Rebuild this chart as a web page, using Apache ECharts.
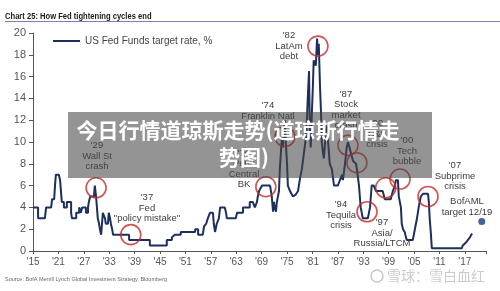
<!DOCTYPE html>
<html>
<head>
<meta charset="utf-8">
<script src="https://cdn.jsdelivr.net/npm/echarts@6/dist/echarts.min.js"></script>
<style>
html, body { margin: 0; padding: 0; background: #fff; }
#chart { width: 500px; height: 291px; }
</style>
</head>
<body>
<div id="chart"></div>
<script>
// 横轴用“距1915年的年数”, 这样 min=0 是 interval=6 的倍数
var baseYear = 1915;

var xTickLabels = ["'15", "'21", "'27", "'33", "'39", "'45", "'51", "'57", "'63",
    "'69", "'75", "'81", "'87", "'93", "'99", "'05", "'11", "'17"];

// 联储利率 (从图上读出来的, 阶梯处用重复年份)
var rateYears = [
    1915.0, 1916.2, 1916.2, 1917.8, 1918.1, 1919.3, 1919.5, 1920.0, 1920.2, 1920.4,
    1921.1, 1921.4, 1921.6, 1921.8, 1922.3, 1922.3, 1923.0, 1923.0, 1924.0, 1924.0,
    1924.2, 1925.2, 1925.2, 1925.9, 1925.9, 1926.3, 1926.3, 1926.6, 1927.5, 1927.5,
    1928.0, 1928.0, 1928.2, 1928.5, 1929.4, 1929.6, 1929.9, 1929.9, 1930.1, 1930.3,
    1930.6, 1930.8, 1931.1, 1931.3, 1931.5, 1931.8, 1932.0, 1932.2, 1932.7, 1932.9,
    1933.2, 1933.4, 1933.7, 1933.9, 1937.7, 1937.7, 1942.6, 1942.6, 1946.6, 1946.6,
    1947.8, 1947.8, 1948.5, 1949.9, 1949.9, 1953.3, 1953.3, 1954.0, 1954.0, 1955.1,
    1955.4, 1955.9, 1956.3, 1956.8, 1957.5, 1957.7, 1958.0, 1958.4, 1958.9, 1959.2,
    1960.3, 1960.6, 1960.8, 1962.9, 1963.2, 1964.6, 1964.6, 1966.2, 1966.2, 1966.9,
    1967.4, 1967.9, 1968.1, 1968.4, 1969.1, 1971.0, 1971.2, 1971.4, 1971.7, 1971.9,
    1972.1, 1972.4, 1972.6, 1973.1, 1973.3, 1973.8, 1974.0, 1974.3, 1974.5, 1974.7,
    1975.0, 1975.2, 1975.7, 1976.4, 1977.1, 1977.6, 1978.0, 1978.5, 1979.0, 1979.5,
    1979.7, 1979.9, 1980.2, 1980.4, 1980.6, 1980.9, 1981.1, 1981.3, 1981.8, 1982.1,
    1982.3, 1982.5, 1982.8, 1983.0, 1983.2, 1983.5, 1983.7, 1983.9, 1984.2, 1984.4,
    1984.7, 1985.1, 1985.6, 1986.1, 1987.0, 1987.5, 1988.0, 1988.2, 1988.7, 1989.1,
    1989.4, 1989.6, 1990.1, 1990.6, 1991.3, 1991.5, 1992.0, 1992.2, 1992.4, 1992.9,
    1994.1, 1994.6, 1994.8, 1995.0, 1995.5, 1996.0, 1997.6, 1998.1, 1999.5, 2000.0,
    2000.5, 2000.7, 2001.2, 2001.4, 2001.9, 2002.1, 2002.4, 2002.8, 2003.1, 2003.3,
    2004.7, 2005.2, 2005.7, 2006.1, 2006.6, 2007.1, 2008.3, 2008.5, 2008.7, 2009.0,
    2009.2, 2016.3, 2016.5, 2017.2, 2017.7, 2018.2, 2018.7
];
var rateValues = [
    4.0, 4.0, 3.0, 3.0, 4.0, 4.0, 4.75, 4.75, 6.0, 7.0,
    7.0, 6.5, 5.5, 4.5, 4.5, 4.0, 4.0, 4.5, 4.5, 3.5,
    3.0, 3.0, 3.5, 3.5, 4.0, 4.0, 3.5, 4.0, 4.0, 3.5,
    3.5, 4.0, 4.5, 5.0, 5.0, 6.0, 6.0, 5.0, 4.0, 3.0,
    2.5, 2.0, 1.5, 1.5, 3.5, 3.5, 3.0, 2.5, 2.5, 3.5,
    3.0, 2.5, 2.0, 1.5, 1.5, 1.0, 1.0, 0.5, 0.5, 1.0,
    1.0, 1.25, 1.5, 1.5, 1.75, 1.75, 2.0, 2.0, 1.5, 1.5,
    2.25, 2.5, 3.0, 3.5, 3.5, 2.5, 1.75, 2.5, 3.0, 4.0,
    4.0, 3.5, 3.0, 3.0, 3.5, 3.5, 4.0, 4.0, 4.5, 4.5,
    4.0, 4.5, 5.0, 5.5, 6.0, 6.0, 5.5, 5.0, 3.6, 4.5,
    4.0, 3.6, 4.5, 5.5, 7.5, 10.5, 9.5, 11.0, 12.0, 10.0,
    8.0, 6.0, 5.5, 5.0, 5.2, 5.5, 6.5, 7.5, 9.0, 10.5,
    12.0, 14.0, 16.5, 11.0, 9.5, 13.0, 15.0, 17.5, 17.0, 19.5,
    18.0, 19.0, 15.0, 13.0, 10.0, 9.0, 8.5, 9.5, 11.0, 11.5,
    10.0, 8.0, 7.5, 6.0, 6.0, 6.5, 7.0, 6.5, 8.0, 9.5,
    10.0, 9.75, 9.0, 8.25, 8.0, 7.5, 6.0, 5.0, 4.0, 3.0,
    3.0, 4.0, 5.0, 6.0, 6.0, 5.5, 5.5, 4.75, 4.75, 5.5,
    6.0, 6.5, 6.5, 5.0, 4.0, 2.5, 2.0, 1.75, 1.25, 1.0,
    1.0, 2.0, 3.0, 4.0, 5.0, 5.25, 5.25, 4.5, 3.0, 1.5,
    0.25, 0.25, 0.5, 0.75, 1.0, 1.25, 1.6
];

// 红圈: 每次紧缩周期结束的位置
var circleYears = [1929.9, 1938.1, 1970.0, 1974.5, 1982.3, 1989.4, 1991.5, 1993.9, 1998.3, 2001.7, 2008.3];
var circleRates = [5.8, 1.5, 5.9, 10.5, 18.8, 9.7, 8.1, 3.6, 5.8, 6.6, 5.0];

// BofAML 2019年12月目标
var targetYears = [2021.0];
var targetRates = [2.7];

function pairs(xs, ys) {
    return xs.map(function (x, i) { return [+(x - baseYear).toFixed(2), ys[i]]; });
}

var font = '"Liberation Sans", Arial, sans-serif';

// 注释文字
function note(text, x, y) {
    return {
        type: 'text', x: x, y: y, z: 50,
        style: {
            text: text, fill: '#3c3c3c', font: '9.5px ' + font,
            align: 'center', verticalAlign: 'middle', lineHeight: 10.5
        }
    };
}

var chart = echarts.init(document.getElementById('chart'));

chart.setOption({
    animation: false,
    grid: { left: 33, right: 14, top: 33, bottom: 40 },
    legend: {
        data: ['US Fed Funds target rate, %'],
        left: 53, top: 36, padding: 0,
        icon: 'rect', itemWidth: 27, itemHeight: 2, itemGap: 4,
        textStyle: { fontSize: 10, color: '#444', fontFamily: font }
    },
    xAxis: {
        type: 'value', min: 0, max: 107, interval: 6,
        axisLine: { lineStyle: { color: '#555' } },
        axisTick: { length: 3, lineStyle: { color: '#555' } },
        axisLabel: {
            margin: 6, fontSize: 10, color: '#555', fontFamily: font,
            formatter: function (v) { return xTickLabels[v / 6] || ''; }
        },
        splitLine: { show: false }
    },
    yAxis: {
        type: 'value', min: 0, max: 20, interval: 2,
        axisLine: { show: true, lineStyle: { color: '#555' } },
        axisTick: { show: true, length: 4, lineStyle: { color: '#555' } },
        axisLabel: { margin: 7, fontSize: 11, color: '#555', fontFamily: font },
        splitLine: { show: false }
    },
    series: [{
        name: 'US Fed Funds target rate, %',
        type: 'line',
        data: pairs(rateYears, rateValues),
        showSymbol: false,
        lineStyle: { color: '#1c2f5e', width: 2 },
        itemStyle: { color: '#1c2f5e' },
        z: 3
    }, {
        type: 'scatter',
        data: pairs(circleYears, circleRates),
        symbolSize: 20,
        itemStyle: { color: 'rgba(0,0,0,0)', borderColor: '#c62828', borderWidth: 1.6 },
        z: 4
    }, {
        type: 'scatter',
        data: pairs(targetYears, targetRates),
        symbolSize: 7,
        itemStyle: { color: '#1c3b7c' },
        z: 4
    }],
    graphic: [
        {
            type: 'text', x: 5, y: 16, scaleX: 0.8,
            style: {
                text: 'Chart 25: How Fed tightening cycles end', fill: '#1a1a1a',
                font: 'bold 9.5px ' + font, verticalAlign: 'middle'
            }
        },
        { type: 'line', shape: { x1: 5, y1: 21.5, x2: 500, y2: 21.5 }, style: { stroke: '#7487a8', lineWidth: 1 } },
        {
            type: 'text', x: 5, y: 279,
            style: {
                text: 'Source: BofA Merrill Lynch Global Investment Strategy, Bloomberg',
                fill: '#666', font: '5.5px ' + font, verticalAlign: 'middle'
            }
        },
        note("'29\nWall St\ncrash", 97, 156),
        note("'37\nFed\n\"policy mistake\"", 147, 208),
        note("'70\nPenn\nCentral\nBK", 244, 169),
        note("'74\nFranklin Natl", 268, 111),
        note("'82\nLatAm\ndebt", 289, 46),
        note("'87\nStock\nmarket\ncrash", 346, 110),
        note("'90\nS&L\ncrisis", 377, 134),
        note("'00\nTech\nbubble", 407, 151),
        note("'94\nTequila\ncrisis", 341, 215),
        note("'97\nAsia/\nRussia/LTCM", 382, 233),
        note("'07\nSubprime\ncrisis", 455, 176),
        note("BofAML\ntarget 12/19", 467, 207),
        // 标题横幅
        {
            type: 'rect', z: 100,
            shape: { x: 68, y: 112, width: 364, height: 66 },
            style: { fill: 'rgba(70,70,70,0.58)' }
        },
        {
            type: 'text', x: 238, y: 130, z: 101,
            style: {
                text: '今日行情道琼斯走势(道琼斯行情走', fill: '#fff',
                font: 'bold 21px "Noto Sans CJK SC", sans-serif', align: 'center', verticalAlign: 'middle'
            }
        },
        {
            type: 'text', x: 244, y: 157, z: 101,
            style: {
                text: '势图)', fill: '#fff',
                font: 'bold 21px "Noto Sans CJK SC", sans-serif', align: 'center', verticalAlign: 'middle'
            }
        },
        // 水印
        { type: 'circle', shape: { cx: 377, cy: 276, r: 6 }, style: { fill: 'none', stroke: 'rgba(185,185,185,0.8)', lineWidth: 1.5 } },
        {
            type: 'text', x: 387, y: 276,
            style: {
                text: '雪球：雪白血红', fill: 'rgba(190,190,190,0.8)',
                font: '14px "Noto Sans CJK SC", sans-serif', verticalAlign: 'middle'
            }
        }
    ]
});
</script>
</body>
</html>
